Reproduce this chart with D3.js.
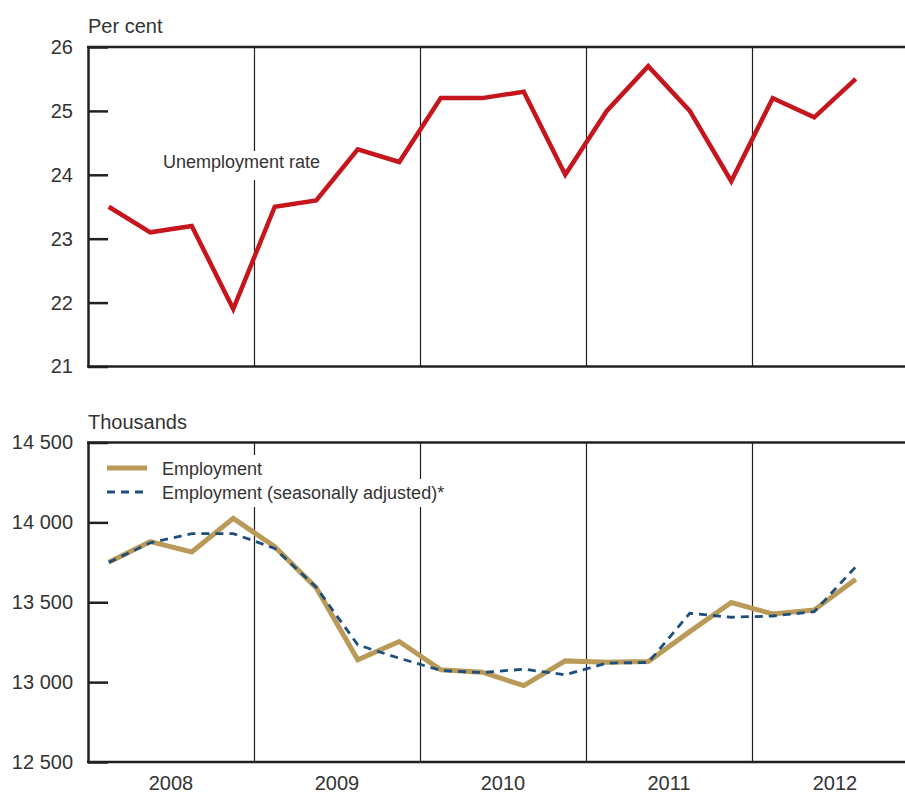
<!DOCTYPE html>
<html>
<head>
<meta charset="utf-8">
<script src="https://cdn.jsdelivr.net/npm/d3@7"></script>
<style>
  body { margin: 0; background: #fff; }
  svg { display: block; }
  text { font-family: "Liberation Sans", Arial, sans-serif; fill: #333; }
</style>
</head>
<body>
<div id="chart"></div>
<script>
// quarterly data, 2008 Q1 .. 2012 Q3
var years = [2008, 2009, 2010, 2011, 2012];
var quarters = years.flatMap(function(y) { return [1, 2, 3, 4].map(function(q) { return y + "Q" + q; }); });
var dataQuarters = quarters.slice(0, 19);

var unemployment = [23.5, 23.1, 23.2, 21.9, 23.5, 23.6, 24.4, 24.2, 25.2, 25.2, 25.3, 24.0, 25.0, 25.7, 25.0, 23.9, 25.2, 24.9, 25.5];
var employment = [13750, 13880, 13815, 14025, 13848, 13590, 13140, 13254, 13077, 13062, 12978, 13133, 13125, 13129, 13316, 13498, 13427, 13452, 13644];
var employmentSA = [13750, 13872, 13930, 13930, 13837, 13594, 13233, 13150, 13073, 13060, 13081, 13046, 13119, 13123, 13431, 13406, 13414, 13441, 13722];

var topTicks = [21, 22, 23, 24, 25, 26];
var bottomTicks = [12500, 13000, 13500, 14000, 14500];

var width = 905, height = 794;
var left = 88;
var frameColor = "#231f20";

var svg = d3.select("#chart").append("svg")
  .attr("width", width)
  .attr("height", height);

var x = d3.scaleBand()
  .domain(quarters)
  .range([left, left + 20 * 41.5]);

function cx(q) { return x(q) + x.bandwidth() / 2; }

var fmt = d3.formatLocale({ decimal: ".", thousands: " ", grouping: [3], currency: ["", ""] }).format(",");

function panel(top, bottom, domain, ticks, unit, tickFormat) {
  var y = d3.scaleLinear().domain(domain).range([bottom, top]);
  var g = svg.append("g");

  // year separators
  g.selectAll(".sep")
    .data(years.slice(1))
    .enter()
    .append("line")
    .attr("class", "sep")
    .attr("x1", function(d) { return Math.round(x(d + "Q1")) + 0.5; })
    .attr("x2", function(d) { return Math.round(x(d + "Q1")) + 0.5; })
    .attr("y1", top)
    .attr("y2", bottom)
    .attr("stroke", frameColor)
    .attr("stroke-width", 1.2);

  // left axis with inward ticks
  var ax = g.append("g")
    .attr("transform", "translate(" + left + ",0)")
    .call(d3.axisLeft(y).tickValues(ticks).tickFormat(tickFormat).tickSizeInner(-20).tickSizeOuter(0).tickPadding(15));
  ax.select(".domain").attr("stroke", frameColor).attr("stroke-width", 2.5);
  ax.selectAll(".tick line").attr("stroke", frameColor).attr("stroke-width", 2.5);
  ax.selectAll(".tick text")
    .style("font-size", "20px")
    .style("font-family", "Liberation Sans, Arial, sans-serif")
    .attr("fill", "#333");

  // top and bottom frame lines
  g.append("line")
    .attr("x1", left - 1).attr("x2", width)
    .attr("y1", top).attr("y2", top)
    .attr("stroke", frameColor).attr("stroke-width", 2.5);
  g.append("line")
    .attr("x1", left - 1).attr("x2", width)
    .attr("y1", bottom).attr("y2", bottom)
    .attr("stroke", frameColor).attr("stroke-width", 2.5);

  g.append("text")
    .attr("x", left)
    .attr("y", top - 14)
    .style("font-size", "20px")
    .text(unit);

  return { g: g, y: y };
}

// top panel: unemployment rate
var p1 = panel(47, 366.5, [21, 26], topTicks, "Per cent", d3.format("d"));

var lblBox = p1.g.append("rect").attr("fill", "#fff");
var lbl = p1.g.append("text")
  .attr("x", 163)
  .attr("y", 168)
  .style("font-size", "18px")
  .text("Unemployment rate");
var bb = lbl.node().getBBox();
lblBox.attr("x", bb.x - 4).attr("y", 151).attr("width", bb.width + 8).attr("height", 29);

var line1 = d3.line()
  .x(function(d, i) { return cx(dataQuarters[i]); })
  .y(function(d) { return p1.y(d); });

p1.g.append("path")
  .datum(unemployment)
  .attr("d", line1)
  .attr("fill", "none")
  .attr("stroke", "#c5161d")
  .attr("stroke-width", 4.5)
  .attr("stroke-linejoin", "miter");

// bottom panel: employment
var p2 = panel(442.5, 762, [12500, 14500], bottomTicks, "Thousands", fmt);

var line2 = d3.line()
  .x(function(d, i) { return cx(dataQuarters[i]); })
  .y(function(d) { return p2.y(d); });

p2.g.append("path")
  .datum(employment)
  .attr("d", line2)
  .attr("fill", "none")
  .attr("stroke", "#b99a58")
  .attr("stroke-width", 5);

p2.g.append("path")
  .datum(employmentSA)
  .attr("d", line2)
  .attr("fill", "none")
  .attr("stroke", "#1d4f7c")
  .attr("stroke-width", 2.8)
  .attr("stroke-dasharray", "8,6");

// legend
var legendItems = [
  { name: "Employment", color: "#b99a58", width: 5, dash: null },
  { name: "Employment (seasonally adjusted)*", color: "#1d4f7c", width: 2.8, dash: "8,6" }
];
var legend = p2.g.append("g");
legendItems.forEach(function(d, i) {
  var yy = 468 + i * 24;
  var box = legend.append("rect").attr("fill", "#fff");
  legend.append("line")
    .attr("x1", 107).attr("x2", 147)
    .attr("y1", yy).attr("y2", yy)
    .attr("stroke", d.color)
    .attr("stroke-width", d.width)
    .attr("stroke-dasharray", d.dash);
  var t = legend.append("text")
    .attr("x", 162)
    .attr("y", yy + 7)
    .style("font-size", "18px")
    .text(d.name);
  var b = t.node().getBBox();
  box.attr("x", 100).attr("y", yy - 13).attr("width", b.x + b.width + 4 - 100).attr("height", 28);
});

// year labels
var xa = svg.append("g")
  .attr("transform", "translate(0,762)")
  .call(d3.axisBottom(x)
    .tickValues(years.map(function(y) { return y + "Q3"; }))
    .tickFormat(function(d) { return d.slice(0, 4); })
    .tickSize(0)
    .tickPadding(14));
xa.select(".domain").remove();
xa.selectAll(".tick")
  .attr("transform", function(d) { return "translate(" + x(d) + ",0)"; });
xa.selectAll(".tick text")
  .style("font-size", "20px")
  .style("font-family", "Liberation Sans, Arial, sans-serif")
  .attr("fill", "#333");
</script>
</body>
</html>
